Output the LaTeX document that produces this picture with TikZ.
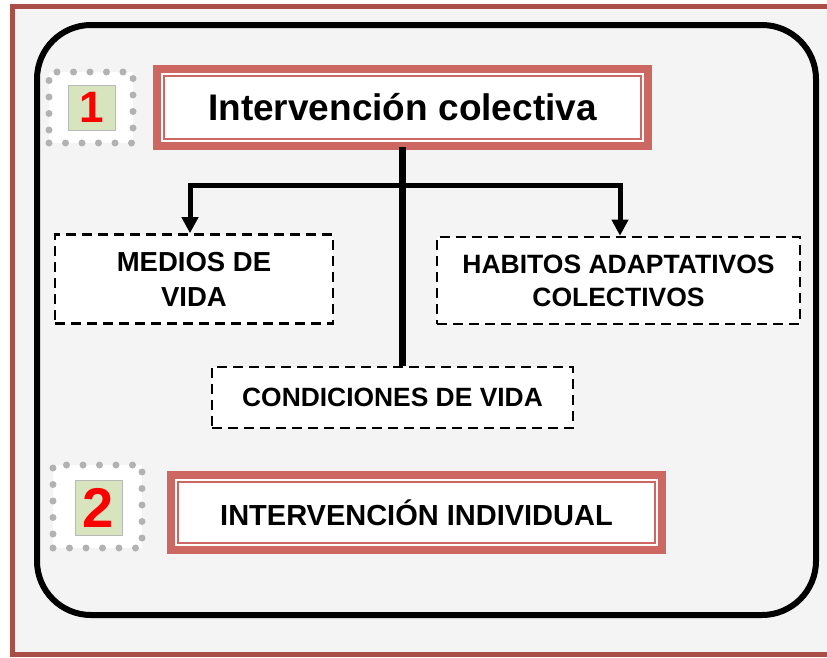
\documentclass[tikz,border=0pt]{standalone}
\usepackage{fontspec}
\setmainfont{Liberation Sans}
\usetikzlibrary{arrows.meta,calc}
\definecolor{framered}{HTML}{AA4E48}
\definecolor{bggray}{HTML}{F4F4F4}
\definecolor{boxred}{HTML}{CD6762}
\definecolor{badgegreen}{HTML}{D7E4BD}
\definecolor{dotgray}{HTML}{B2B2B2}
\tikzset{
  titlebox/.style={draw=boxred, line width=8pt, fill=white, inner sep=0pt,
    outer sep=0pt, align=center},
  dashbox/.style={draw=black, line width=2.6pt, dash pattern=on 10pt off 6pt,
    fill=white, inner sep=0pt, align=center},
  badge/.style={draw=dotgray, fill=white, line width=7pt, line cap=round,
    dash pattern=on 0pt off 16.5pt, inner sep=0pt},
  numbox/.style={fill=badgegreen, draw=gray!55, line width=0.8pt, inner sep=0pt,
    text=red},
  innerline/.style={draw=boxred, line width=2.2pt},
  trunkline/.style={line width=7pt},
  branchline/.style={line width=5pt, -{Triangle[width=16pt,length=16pt]}},
}
\begin{document}
\begin{tikzpicture}[x=1pt,y=-1pt]
\useasboundingbox (0,0) rectangle (827,657);
\clip (0,0) rectangle (827,657);
\fill[white] (0,0) rectangle (827,657);
\draw[framered, line width=5pt, fill=bggray] (12.5,6.5) rectangle (834,654);
\draw[line width=6pt, rounded corners=54pt] (37,25) rectangle (816,615);

% badges
\node[badge, minimum width=84pt, minimum height=71pt] (b1) at (91,107.5) {};
\node[numbox, minimum width=47pt, minimum height=45pt,
  font=\fontsize{44}{44}\selectfont\bfseries] (n1) at (91.5,107.5) {1};
\node[badge, minimum width=89pt, minimum height=83pt] (b2) at (97.5,506.5) {};
\node[numbox, minimum width=47pt, minimum height=55pt,
  font=\fontsize{56}{56}\selectfont\bfseries] (n2) at (98.5,507.5) {2};

% title boxes (anchors lie on the centre of the 8pt band)
\node[titlebox, minimum width=491pt, minimum height=77pt,
  font=\fontsize{37}{44}\selectfont\bfseries] (t1) at (402.5,107.5)
  {Intervención colectiva};
\draw[innerline] ([xshift=7pt,yshift=-7pt]t1.north west) rectangle ([xshift=-7pt,yshift=7pt]t1.south east);
\node[titlebox, minimum width=491pt, minimum height=75pt,
  font=\fontsize{29}{34}\selectfont\bfseries] (t2) at (416.5,512.5)
  {INTERVENCIÓN INDIVIDUAL};
\draw[innerline] ([xshift=7pt,yshift=-7pt]t2.north west) rectangle ([xshift=-7pt,yshift=7pt]t2.south east);

% dashed boxes
\node[dashbox, minimum width=278pt, minimum height=89pt,
  font=\fontsize{27.5}{35}\selectfont\bfseries] (medios) at (194,279)
  {MEDIOS DE\\VIDA};
\node[dashbox, minimum width=363pt, minimum height=87pt,
  font=\fontsize{26.5}{33}\selectfont\bfseries] (habitos) at (618.5,280.5)
  {HABITOS ADAPTATIVOS\\COLECTIVOS};
\node[dashbox, minimum width=361pt, minimum height=61pt,
  font=\fontsize{26.4}{32}\selectfont\bfseries] (cond) at (392.5,397.5)
  {CONDICIONES DE VIDA};

% connectors
\coordinate (top) at ([yshift=-1pt]t1.south);
\coordinate (j) at (402.5,185.5);
\draw[trunkline] (top) -- (top |- cond.north);
\draw[branchline] (j) -| ([xshift=-4pt]medios.north);
\draw[branchline] (j) -| ([xshift=1.5pt]habitos.north);
\end{tikzpicture}
\end{document}
